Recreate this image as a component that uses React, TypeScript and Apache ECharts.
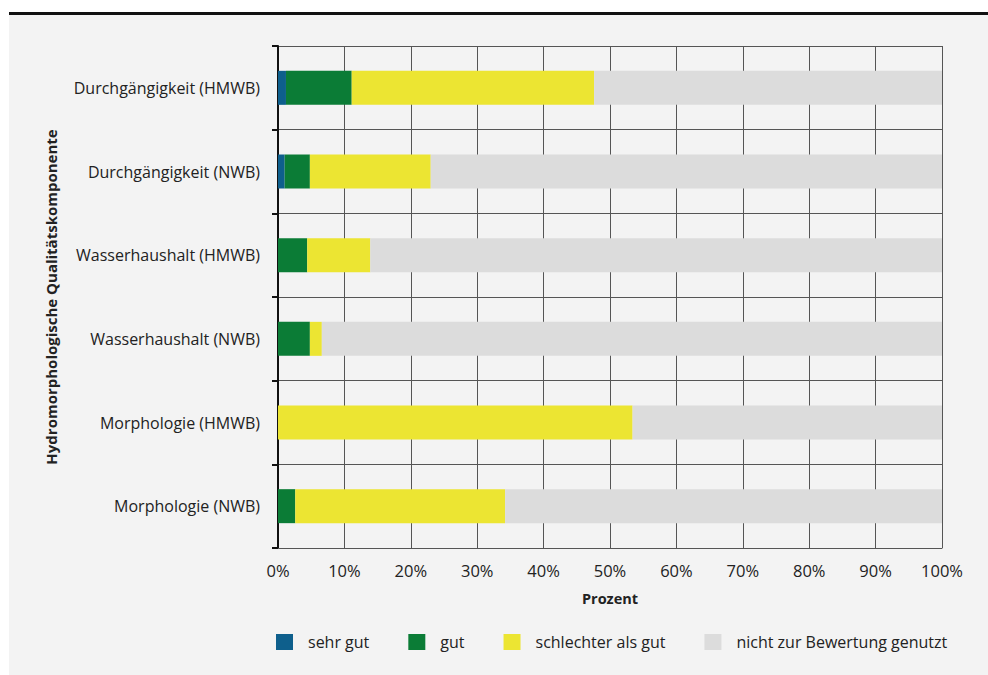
import React, { useEffect, useRef } from "react";
import * as echarts from "echarts";

const categories = [
  "Durchgängigkeit (HMWB)",
  "Durchgängigkeit (NWB)",
  "Wasserhaushalt (HMWB)",
  "Wasserhaushalt (NWB)",
  "Morphologie (HMWB)",
  "Morphologie (NWB)",
];
const sehrGut = [1.2, 1.0, 0, 0, 0, 0];
const gut = [9.9, 3.8, 4.4, 4.8, 0, 2.6];
const schlechter = [36.5, 18.2, 9.5, 1.8, 53.4, 31.6];
const nichtGenutzt = [52.4, 77.0, 86.1, 93.4, 46.6, 65.8];
const seriesNames = ["sehr gut", "gut", "schlechter als gut", "nicht zur Bewertung genutzt"];
const colors = ["#0e5f8c", "#0b7c36", "#ece532", "#dcdcdc"];

const FONT = "'Open Sans', 'Noto Sans', sans-serif";

export default function App() {
  const ref = useRef<HTMLDivElement>(null);
  useEffect(() => {
    if (!ref.current) return;
    const chart = echarts.init(ref.current, undefined, { renderer: "svg" });
    const data = [sehrGut, gut, schlechter, nichtGenutzt];
    chart.setOption({
      animation: false,
      backgroundColor: "#ffffff",
      textStyle: { fontFamily: FONT },
      graphic: [
        { type: "rect", z: -10, silent: true, shape: { x: 9, y: 15, width: 979, height: 660 }, style: { fill: "#f3f3f3" } },
        { type: "rect", z: -9, silent: true, shape: { x: 9, y: 12, width: 979, height: 3 }, style: { fill: "#111111" } },
      ],
      legend: {
        left: 271,
        top: 629,
        itemWidth: 17,
        itemHeight: 16,
        itemGap: 39,
        icon: "rect",
        data: seriesNames,
        textStyle: { fontFamily: FONT, fontSize: 16, color: "#222", padding: [0, 0, 0, 10] },
      },
      grid: { left: 278, right: 46, top: 46, bottom: 127, containLabel: false },
      xAxis: {
        type: "value",
        min: 0,
        max: 100,
        interval: 10,
        name: "Prozent",
        nameLocation: "middle",
        nameGap: 43,
        nameTextStyle: { fontFamily: FONT, fontSize: 14.5, fontWeight: "bold", color: "#222" },
        axisLabel: { formatter: "{value}%", margin: 14, fontSize: 16.5, color: "#222", fontFamily: FONT },
        axisLine: { show: true, lineStyle: { color: "#555", width: 1 } },
        axisTick: { show: false },
        splitLine: { show: true, lineStyle: { color: "#555", width: 1 } },
      },
      yAxis: {
        type: "category",
        inverse: true,
        data: categories,
        name: "Hydromorphologische Qualitätskomponente",
        nameLocation: "middle",
        nameGap: 220,
        nameRotate: 90,
        nameTextStyle: { fontFamily: FONT, fontSize: 15, fontWeight: "bold", color: "#222" },
        axisLabel: { margin: 18, fontSize: 16, color: "#222", fontFamily: FONT },
        axisLine: { show: true, lineStyle: { color: "#111", width: 2 } },
        axisTick: { show: true, length: 6, lineStyle: { color: "#111", width: 2 } },
        splitLine: { show: true, lineStyle: { color: "#555", width: 1 } },
      },
      series: seriesNames.map((name, i) => ({
        name,
        type: "bar",
        stack: "total",
        barWidth: 34,
        itemStyle: { color: colors[i] },
        data: data[i],
      })),
    });
    return () => chart.dispose();
  }, []);
  return (
    <div
      ref={ref}
      style={{ position: "fixed", left: 0, top: 0, width: 988, height: 675 }}
    />
  );
}
